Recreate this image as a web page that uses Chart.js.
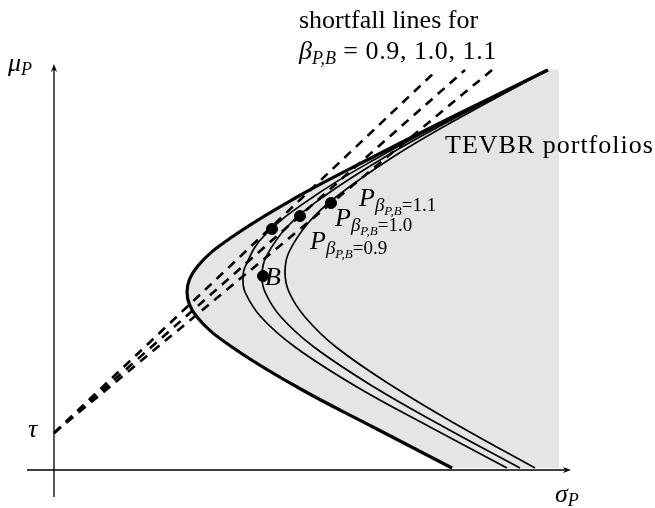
<!DOCTYPE html>
<html>
<head>
<title>TEVBR portfolios</title>
<script src="https://cdn.jsdelivr.net/npm/chart.js@4.4.1/dist/chart.umd.min.js"></script>
<style>
  body { margin: 0; background: #fff; }
  .wrap { width: 655px; height: 508px; position: relative; }
</style>
</head>
<body>
<div class="wrap"><canvas id="myChart"></canvas></div>
<script>
    // values, sigma_P (x) and mu_P (y)
    var outerSigma = [3.98, 3.19, 2.43, 1.78, 1.43, 1.33, 1.43, 1.78, 2.43, 3.19, 3.98, 4.94];
    var outerMu    = [0.02, 0.43, 0.83, 1.23, 1.53, 1.78, 2.03, 2.33, 2.73, 3.13, 3.53, 4.00];

    var tev09Sigma = [4.53, 3.76, 3.03, 2.41, 2.07, 1.91, 1.89, 1.91, 2.09, 2.59, 3.25, 4.00, 4.92];
    var tev09Mu    = [0.02, 0.43, 0.83, 1.23, 1.53, 1.78, 1.92, 2.03, 2.33, 2.73, 3.13, 3.53, 4.00];

    var tev10Sigma = [4.66, 3.90, 3.20, 2.60, 2.27, 2.11, 2.08, 2.12, 2.33, 2.69, 3.31, 4.03, 4.93];
    var tev10Mu    = [0.02, 0.43, 0.83, 1.23, 1.53, 1.78, 1.95, 2.13, 2.43, 2.73, 3.13, 3.53, 4.00];

    var tev11Sigma = [4.81, 4.07, 3.40, 2.82, 2.51, 2.35, 2.31, 2.35, 2.55, 2.82, 3.39, 4.07, 4.94];
    var tev11Mu    = [0.02, 0.43, 0.83, 1.23, 1.53, 1.78, 1.98, 2.18, 2.48, 2.73, 3.13, 3.53, 4.00];

    // right and top edge of the shaded region (corners doubled so the edge stays straight)
    var shadeEdgeSigma = [5.05, 5.05, 5.05, 5.05];
    var shadeEdgeMu    = [4.00, 3.99, 0.03, 0.02];

    // tau and the far ends of the shortfall lines (beta 0.9, 1.0, 1.1)
    var tau = 0.37;
    var shortfallEndSigma = [3.83, 4.11, 4.38];
    var shortfallEndMu    = [4.00, 4.00, 4.00];

    // marked portfolios
    var pointNames = ['B', 'P0.9', 'P1.0', 'P1.1'];
    var pointSigma = [2.09, 2.18, 2.46, 2.77];
    var pointMu    = [1.94, 2.41, 2.54, 2.67];

    function zip(xs, ys) {
        var out = [];
        for (var i = 0; i < xs.length; i++) out.push({x: xs[i], y: ys[i]});
        return out;
    }

    var shadeData = zip(outerSigma.concat(shadeEdgeSigma), outerMu.concat(shadeEdgeMu));

    var curveStyle = {
        borderColor: '#000', pointRadius: 0, tension: 0.4, fill: false, order: 3
    };

    var datasets = [
        {
            label: 'TEVBR region', data: shadeData, borderWidth: 0, borderColor: 'rgba(0,0,0,0)',
            backgroundColor: '#e5e5e5', fill: 'shape', pointRadius: 0, tension: 0.4, order: 6
        },
        Object.assign({label: 'frontier', data: zip(outerSigma, outerMu), borderWidth: 3.2}, curveStyle),
        Object.assign({label: 'beta 0.9', data: zip(tev09Sigma, tev09Mu), borderWidth: 1.7}, curveStyle),
        Object.assign({label: 'beta 1.0', data: zip(tev10Sigma, tev10Mu), borderWidth: 1.7}, curveStyle),
        Object.assign({label: 'beta 1.1', data: zip(tev11Sigma, tev11Mu), borderWidth: 1.7}, curveStyle)
    ];
    for (var i = 0; i < shortfallEndSigma.length; i++) {
        datasets.push({
            label: 'shortfall ' + i,
            data: [{x: 0, y: tau}, {x: shortfallEndSigma[i], y: shortfallEndMu[i]}],
            borderColor: '#000', borderWidth: 2.6, borderDash: [9, 7],
            pointRadius: 0, fill: false, order: 2
        });
    }
    datasets.push({
        label: 'portfolios', data: zip(pointSigma, pointMu), showLine: false,
        pointRadius: 5.5, pointBackgroundColor: '#000', pointBorderColor: '#000', order: 1
    });

    // axes ends and the text, in data units
    var axisSigma = [-0.27, 5.17];
    var axisMu = [-0.27, 4.06];
    var serif = '"Liberation Serif", "Times New Roman", serif';

    var labels = [
        {x: 2.45, y: 4.42, runs: [{t: 'shortfall lines for', s: 26}]},
        {x: 2.45, y: 4.11, runs: [{t: 'β', s: 26, i: 1}, {t: 'P,B', s: 18, i: 1, dy: 5}, {t: ' = 0.9, 1.0, 1.1', s: 26, sp: 0.6}]},
        {x: 3.91, y: 3.17, runs: [{t: 'TEVBR portfolios', s: 26, sp: 1}]},
        {x: 3.05, y: 2.64, runs: [{t: 'P', s: 26, i: 1}, {t: 'β', s: 19, i: 1, dy: 5}, {t: 'P,B', s: 13, i: 1, dy: 9}, {t: '=1.1', s: 19, dy: 5}]},
        {x: 2.81, y: 2.44, runs: [{t: 'P', s: 26, i: 1}, {t: 'β', s: 19, i: 1, dy: 5}, {t: 'P,B', s: 13, i: 1, dy: 9}, {t: '=1.0', s: 19, dy: 5}]},
        {x: 2.56, y: 2.21, runs: [{t: 'P', s: 26, i: 1}, {t: 'β', s: 19, i: 1, dy: 5}, {t: 'P,B', s: 13, i: 1, dy: 9}, {t: '=0.9', s: 19, dy: 5}]},
        {x: 2.11, y: 1.85, runs: [{t: 'B', s: 26, i: 1}]},
        {x: -0.46, y: 3.99, runs: [{t: 'μ', s: 26, i: 1}, {t: 'P', s: 18, i: 1, dy: 4}]},
        {x: -0.26, y: 0.33, runs: [{t: 'τ', s: 26, i: 1}]},
        {x: 5.01, y: -0.32, runs: [{t: 'σ', s: 26, i: 1}, {t: 'P', s: 18, i: 1, dy: 4}]}
    ];

    function arrow(ctx, x, y, dx, dy) {
        var len = 8, half = 3;
        ctx.beginPath();
        ctx.moveTo(x, y);
        ctx.lineTo(x - dx * len - dy * half, y - dy * len + dx * half);
        ctx.lineTo(x - dx * len * 0.7, y - dy * len * 0.7);
        ctx.lineTo(x - dx * len + dy * half, y - dy * len - dx * half);
        ctx.closePath();
        ctx.fill();
    }

    var paperPlugin = {
        id: 'paper',
        beforeDatasetsDraw: function(chart) {
            var ctx = chart.ctx, xs = chart.scales.x, ys = chart.scales.y;
            var x0 = xs.getPixelForValue(0), y0 = ys.getPixelForValue(0);
            var xa = xs.getPixelForValue(axisSigma[0]), xb = xs.getPixelForValue(axisSigma[1]);
            var ya = ys.getPixelForValue(axisMu[0]), yb = ys.getPixelForValue(axisMu[1]);
            ctx.save();
            ctx.strokeStyle = '#000';
            ctx.fillStyle = '#000';
            ctx.lineWidth = 1.3;
            ctx.beginPath();
            ctx.moveTo(xa, y0); ctx.lineTo(xb - 4, y0);
            ctx.moveTo(x0, ya); ctx.lineTo(x0, yb + 4);
            ctx.stroke();
            arrow(ctx, xb, y0, 1, 0);
            arrow(ctx, x0, yb, 0, -1);
            ctx.restore();
        },
        afterDatasetsDraw: function(chart) {
            var ctx = chart.ctx, xs = chart.scales.x, ys = chart.scales.y;
            ctx.save();
            ctx.fillStyle = '#000';
            ctx.textBaseline = 'alphabetic';
            labels.forEach(function(l) {
                var px = xs.getPixelForValue(l.x), py = ys.getPixelForValue(l.y);
                l.runs.forEach(function(r) {
                    ctx.font = (r.i ? 'italic ' : '') + r.s + 'px ' + serif;
                    ctx.letterSpacing = (r.sp || 0) + 'px';
                    ctx.fillText(r.t, px, py + (r.dy || 0));
                    px += ctx.measureText(r.t).width;
                });
            });
            ctx.restore();
        }
    };

    var ctx = document.getElementById('myChart').getContext('2d');
    var myChart = new Chart(ctx, {
        type: 'line',
        data: {datasets: datasets},
        options: {
            responsive: true,
            maintainAspectRatio: false,
            animation: false,
            layout: {padding: 0, autoPadding: false},
            plugins: {legend: {display: false}, tooltip: {enabled: false}, title: {display: false}},
            scales: {
                x: {type: 'linear', min: -0.54, max: 6.01, display: false},
                y: {type: 'linear', min: -0.38, max: 4.70, display: false}
            }
        },
        plugins: [paperPlugin]
    });
</script>
</body>
</html>
